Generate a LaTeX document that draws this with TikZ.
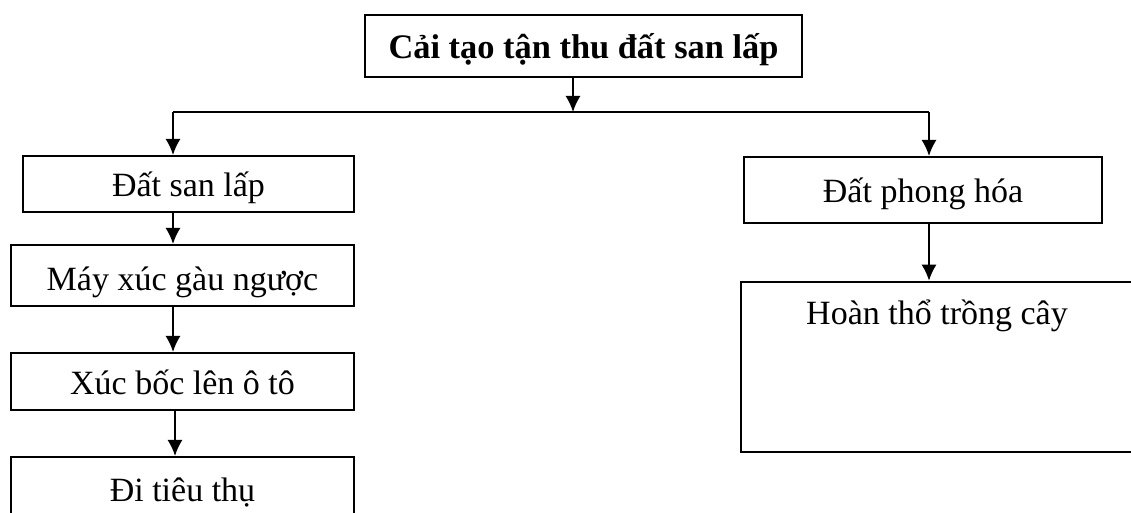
\documentclass[tikz,border=0pt]{standalone}
\usepackage{fontspec}
\setmainfont{Liberation Serif}
\usetikzlibrary{arrows.meta}

\begin{document}
\begin{tikzpicture}
    [
        x=0.5pt, y=-0.5pt,
        box/.style={draw, line width=1pt, inner sep=0pt,
            text height=17pt, text depth=4pt,
            font=\fontsize{17}{20}\selectfont},
        ->, >={Latex[length=8pt,width=7.5pt]}, line width=0.9pt
    ]
    \useasboundingbox (0,0) rectangle (1131,513);

    \node [box, line width=1.3pt, font=\fontsize{17.2}{20}\selectfont\bfseries,
        minimum width=218.5pt, minimum height=31pt] (tantu) at (583.5,46)
        {Cải tạo tận thu đất san lấp};

    \node [box, minimum width=165.5pt, minimum height=28pt] (sanlap) at (188.5,184) {Đất san lấp};
    \node [box, minimum width=171.5pt, minimum height=30.5pt, text depth=2pt] (mayxuc) at (182.5,275.5) {Máy xúc gàu ngược};
    \node [box, minimum width=171.5pt, minimum height=28.5pt] (xucboc) at (182.5,381.5) {Xúc bốc lên ô tô};
    \node [box, minimum width=171.5pt, minimum height=32pt] (tieuthu) at (182.5,489) {Đi tiêu thụ};

    \node [box, minimum width=179pt, minimum height=33pt] (phonghoa) at (923,190) {Đất phong hóa};
    \node [box, line width=1.3pt, minimum width=196pt, minimum height=85pt,
        text height=21.5pt, text depth=63.5pt] (hoantho) at (937,367) {Hoàn thổ trồng cây};

    \coordinate (tach) at (573,112);
    \coordinate (trai) at (173,112);
    \coordinate (phai) at (929,112);

    \draw (tantu.south -| tach) -- (tach);
    \draw [-] (trai) -- (phai);
    \draw (trai) -- (trai |- sanlap.north);
    \draw (phai) -- (phai |- phonghoa.north);
    \draw (sanlap.south -| trai) -- (mayxuc.north -| trai);
    \draw (mayxuc.south -| trai) -- (xucboc.north -| trai);
    \draw ([xshift=1pt]xucboc.south -| trai) -- ([xshift=1pt]tieuthu.north -| trai);
    \draw (phonghoa.south -| phai) -- (hoantho.north -| phai);
\end{tikzpicture}
\end{document}
